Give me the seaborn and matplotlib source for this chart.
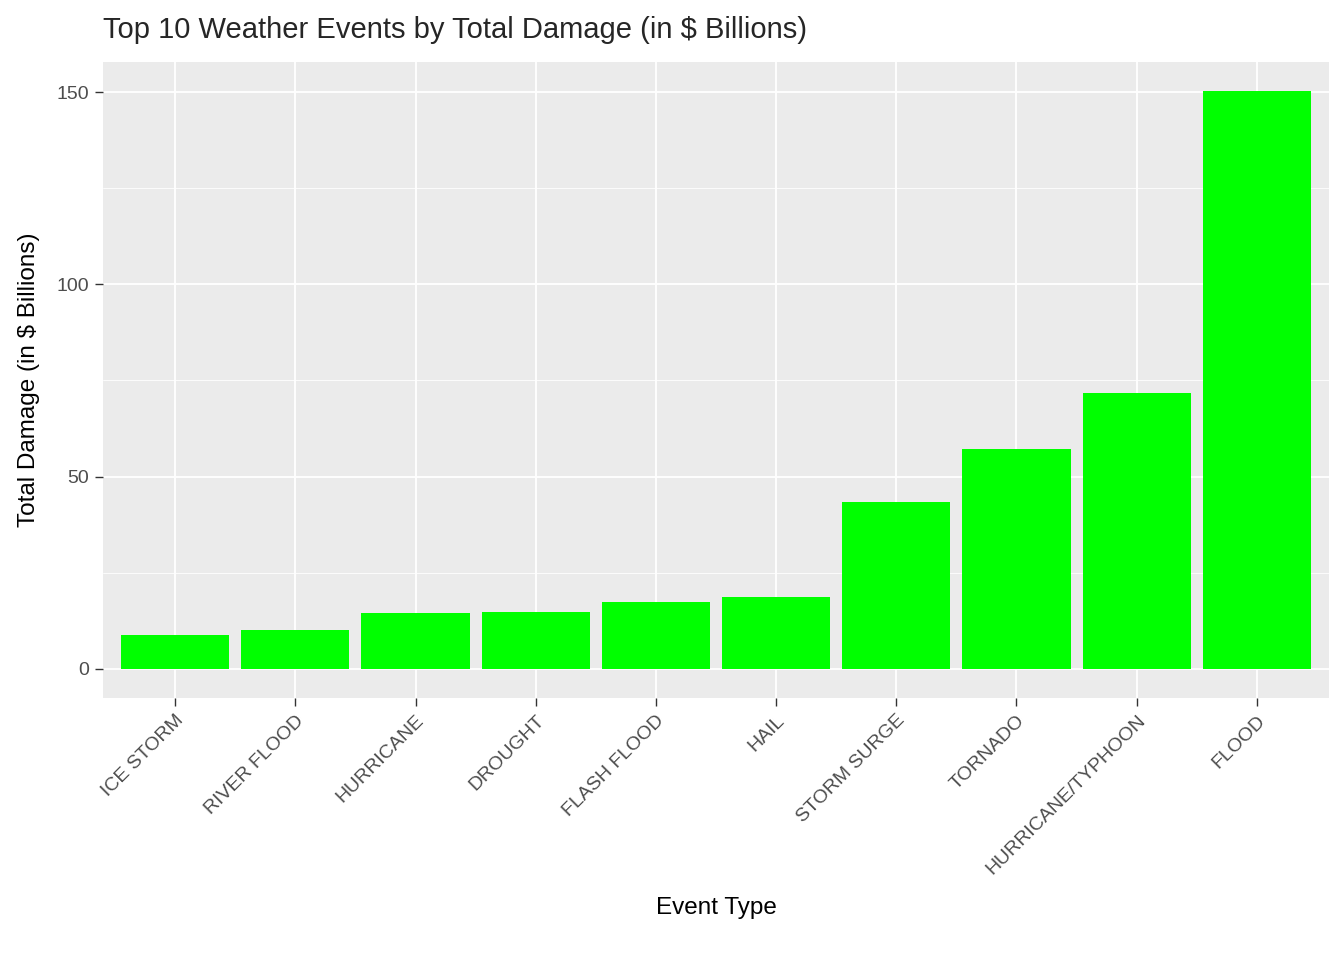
import matplotlib
matplotlib.use("Agg")
import matplotlib.pyplot as plt
import pandas as pd
import seaborn as sns

EVENTS = ["ICE STORM", "RIVER FLOOD", "HURRICANE", "DROUGHT", "FLASH FLOOD",
          "HAIL", "STORM SURGE", "TORNADO", "HURRICANE/TYPHOON", "FLOOD"]
DAMAGE = [8.9, 10.1, 14.6, 14.8, 17.4, 18.7, 43.3, 57.3, 71.8, 150.3]

sns.set_theme(style="darkgrid")
plt.rcParams.update({
    "font.family": ["Liberation Sans", "DejaVu Sans"],
    "axes.facecolor": "#EBEBEB",
    "grid.color": "white",
})

df = pd.DataFrame({"event": EVENTS, "damage": DAMAGE})
fig = plt.figure(figsize=(13.44, 9.6), dpi=100)
ax = fig.add_axes([103 / 1344, 1 - 698 / 960, (1329 - 103) / 1344, (698 - 62) / 960])
sns.barplot(data=df, x="event", y="damage", color="#00FF00", saturation=1, width=0.9,
            linewidth=0, edgecolor="none", ax=ax)

ax.set_xlim(-0.6, 9.6)
ax.set_ylim(-7.55, 157.8)
ax.set_yticks([0, 50, 100, 150])
ax.set_yticks([25, 75, 125], minor=True)
ax.grid(which="major", color="white", linewidth=1.3)
ax.grid(which="minor", color="white", linewidth=0.6)
ax.set_axisbelow(True)
for s in ax.spines.values():
    s.set_visible(False)
ax.tick_params(axis="both", which="major", length=6, color="#333333", width=1,
               labelsize=14, labelcolor="#4D4D4D", bottom=True, left=True, pad=4)
ax.tick_params(axis="y", which="minor", length=0)
plt.setp(ax.get_xticklabels(), rotation=45, ha="right", rotation_mode="anchor")
ax.set_xlabel("Event Type", fontsize=17.5, color="black", labelpad=14)
ax.set_ylabel("Total Damage (in $ Billions)", fontsize=17.5, color="black", labelpad=12)
fig.text(103 / 1344, 1 - 30 / 960, "Top 10 Weather Events by Total Damage (in $ Billions)",
         fontsize=21, va="center", ha="left")
fig.savefig("out.png", dpi=100)
